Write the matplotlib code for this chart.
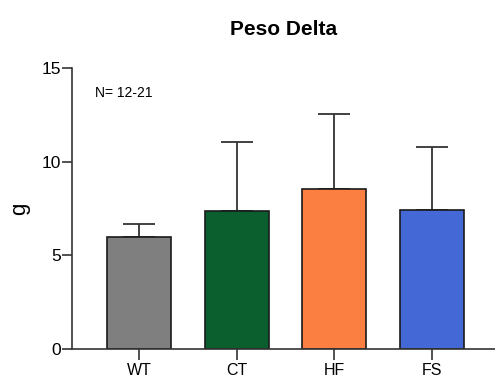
import numpy as np
import matplotlib.pyplot as plt

# group means and upper SD
groups = ["WT", "CT", "HF", "FS"]
means = [6.0, 7.35, 8.55, 7.42]
err_top = [6.67, 11.07, 12.55, 10.77]
colors = ["#7f7f7f", "#0b5f2f", "#fa7f40", "#4469d6"]

plt.rcParams['font.family'] = ['Liberation Sans', 'DejaVu Sans']

fig = plt.figure(figsize=(4.95, 3.79), dpi=100)
ax = fig.add_axes([72/495, 1-349/379, 1-72/495, (349-68)/379])

x = np.arange(len(groups))
sd = np.array(err_top) - np.array(means)
ax.bar(x, means, width=0.655, color=colors, edgecolor="#1a1a1a", lw=1.2, zorder=2)
ax.errorbar(x, means, yerr=[np.zeros(len(sd)), sd], fmt="none", ecolor="#333333",
            elinewidth=1.3, capsize=11.5, capthick=1.3, zorder=1)

ax.set_xlim(-0.686, 3.645)
ax.set_ylim(0, 15)
ax.set_yticks([0, 5, 10, 15])
ax.set_xticks(x)
ax.set_xticklabels(groups)
for s in ["top", "right"]:
    ax.spines[s].set_visible(False)
for s in ["left", "bottom"]:
    ax.spines[s].set_color("#333333")
    ax.spines[s].set_linewidth(1.2)
ax.spines["left"].set_bounds(0, 15)
ax.tick_params(axis="y", length=7, width=1.2, color="#333333", labelsize=12.5, pad=1)
ax.tick_params(axis="x", length=8, width=1.2, color="#333333", labelsize=11.5, pad=2)

ax.set_ylabel("g", fontsize=16, labelpad=8)
ax.set_title("Peso Delta", fontsize=15, fontweight="bold", pad=24)
ax.text(0.054, 0.91, "N= 12-21", transform=ax.transAxes, fontsize=10, va="center")

fig.savefig("out.png", dpi=100)
